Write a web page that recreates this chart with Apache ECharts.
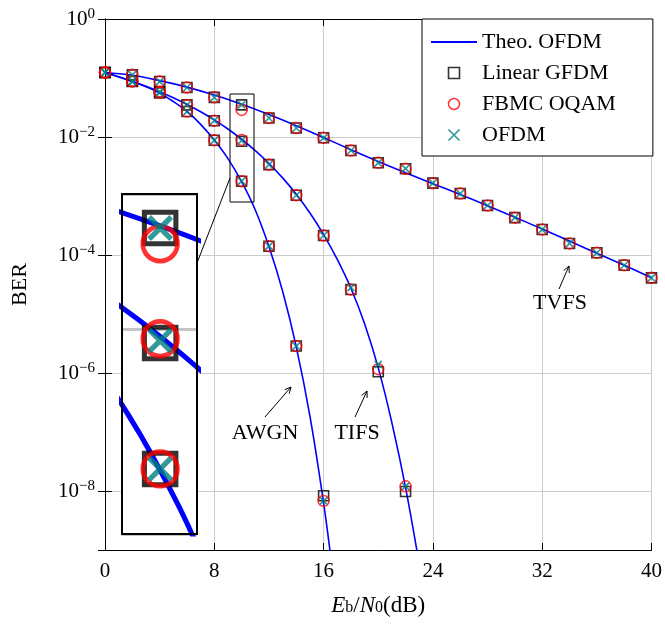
<!DOCTYPE html>
<html>
<head>
<meta charset="utf-8">
<script src="https://cdn.jsdelivr.net/npm/echarts@6/dist/echarts.min.js"></script>
<style>
html,body{margin:0;padding:0;background:#fff}
#chart{width:665px;height:625px}
</style>
</head>
<body>
<div id="chart"></div>
<script>
// Eb/N0 (dB) where the simulations were run
var snrSim = [0,2,4,6,8,10,12,14,16,18,20,22,24,26,28,30,32,34,36,38,40];
var awgnSimX = snrSim.slice(0, 9);
var tifsSimX = snrSim.slice(0, 12);

// theory curves
var awgnTheoX = [0,1,2,3,4,5,6,7,8,9,10,11,12,13,14,15,16,16.5,17];
var awgnTheo = [0.124,0.104,0.087,0.071,0.0555,0.040,0.0271,0.0164,0.0089,0.00431,0.00175,5.8e-4,1.39e-4,2.43e-5,2.77e-6,1.85e-7,6.25e-9,8.5e-10,9e-11];
var tifsTheoX = [0,1,2,3,4,5,6,7,8,9,10,11,12,13,14,15,16,17,18,19,20,21,22,23];
var tifsTheo = [0.124,0.105,0.0879,0.0723,0.0583,0.0461,0.0356,0.0268,0.0195,0.01365,0.00916,0.00587,0.00356,0.00203,0.00107,5.14e-4,2.22e-4,8.43e-5,2.73e-5,6.85e-6,1.22e-6,1.43e-7,1.14e-8,5.7e-10];
var tvfsTheo = [0.124,0.111,0.0902,0.070,0.0513,0.0359,0.024,0.0155,0.00977,0.0061,0.00385,0.00248,0.00162,0.00106,6.84e-4,4.37e-4,2.75e-4,1.72e-4,1.07e-4,6.68e-5,4.12e-5];

// simulated points: Linear GFDM
var gfdmAwgn = [0.124,0.087,0.056,0.027,0.0088,0.00178,1.41e-4,2.86e-6,8.3e-9];
var gfdmTifs = [0.124,0.088,0.058,0.035,0.0189,0.00845,0.0034,0.00103,2.14e-4,2.6e-5,1.05e-6,9.8e-9];
var gfdmTvfs = [0.124,0.113,0.087,0.069,0.047,0.035,0.021,0.0142,0.0097,0.0059,0.00365,0.0029,0.00165,0.0011,6.9e-4,4.3e-4,2.7e-4,1.57e-4,1.09e-4,6.7e-5,4.1e-5];
// FBMC OQAM
var fbmcAwgn = [0.124,0.087,0.056,0.027,0.0088,0.00178,1.41e-4,2.86e-6,6.8e-9];
var fbmcTifs = [0.124,0.088,0.058,0.035,0.0189,0.0089,0.0034,0.00103,2.14e-4,2.6e-5,1.16e-6,1.2e-8];
var fbmcTvfs = [0.124,0.113,0.087,0.069,0.047,0.0288,0.021,0.0142,0.0097,0.0059,0.00365,0.0029,0.00165,0.0011,6.9e-4,4.3e-4,2.7e-4,1.57e-4,1.09e-4,6.7e-5,4.1e-5];
// OFDM
var ofdmAwgn = [0.124,0.087,0.056,0.027,0.0088,0.00178,1.41e-4,2.86e-6,6.8e-9];
var ofdmTifs = [0.124,0.088,0.058,0.035,0.0189,0.0087,0.0034,0.00103,2.14e-4,2.8e-5,1.4e-6,1.2e-8];
var ofdmTvfs = [0.124,0.113,0.087,0.069,0.047,0.035,0.021,0.0142,0.0097,0.0059,0.00365,0.0029,0.00165,0.0011,6.9e-4,4.3e-4,2.7e-4,1.57e-4,1.09e-4,6.7e-5,4.1e-5];

var xTicks = [0, 40, 8];   // min, max, step
var yRange = [1e-9, 1];
var zoomX = [9.11, 10.86];
var zoomY = [7.96e-4, 0.0533];

var FONT = 'Liberation Serif';
var CROSS = 'path://M0,0L10,10M10,0L0,10';
var SQUARE = 'path://M0,0H10V10H0Z';

function pts(xs, ys) {
  return xs.map(function (x, i) { return [x, ys[i]]; });
}
function allPts(a, b, c) {
  return pts(awgnSimX, a).concat(pts(tifsSimX, b), pts(snrSim, c));
}
function yLabel(v) {
  var l = Math.log10(v), e = Math.round(l);
  if (Math.abs(l - e) > 1e-6 || e % 2 !== 0) return '';
  return '{b|10}{s|' + (e < 0 ? '\u2212' : '') + Math.abs(e) + '}';
}

var chart = echarts.init(document.getElementById('chart'));

function arrow(x1, y1, x2, y2) {
  var a = Math.atan2(y2 - y1, x2 - x1), h = 7, w = 0.45;
  return [
    { type: 'line', z: 20, shape: { x1: x1, y1: y1, x2: x2, y2: y2 }, style: { stroke: '#000', lineWidth: 1 } },
    { type: 'polyline', z: 20, shape: { points: [
      [x2 - h * Math.cos(a - w), y2 - h * Math.sin(a - w)], [x2, y2],
      [x2 - h * Math.cos(a + w), y2 - h * Math.sin(a + w)]] },
      style: { stroke: '#000', lineWidth: 1, fill: null } }
  ];
}
function label(t, x, y) {
  return { type: 'text', z: 20, x: x, y: y,
    style: { text: t, font: '22px "' + FONT + '"', fill: '#000', align: 'center', verticalAlign: 'middle', textAlign: 'center', textVerticalAlign: 'middle' } };
}

var theoLine = function (data, xi, yi, w) {
  return { name: 'Theo. OFDM', type: 'line', xAxisIndex: xi, yAxisIndex: yi, data: data, symbol: 'none',
    smooth: 0.4, z: 3, lineStyle: { color: '#0000ff', width: w }, itemStyle: { color: '#0000ff' }, silent: true };
};
var marks = function (name, data, sym, color, size, bw, xi, yi) {
  return { name: name, type: 'scatter', xAxisIndex: xi, yAxisIndex: yi, data: data, symbol: sym, symbolSize: size, z: 4,
    itemStyle: { color: 'none', borderColor: color, borderWidth: bw }, silent: true };
};

var series = [];
[0, 1].forEach(function (g) {
  var xi = g === 0 ? 0 : 2, yi = g === 0 ? 0 : 2;
  var k = g === 0 ? 1 : 3.15;
  series.push(theoLine(pts(awgnTheoX, awgnTheo), xi, yi, 1.6 * k));
  series.push(theoLine(pts(tifsTheoX, tifsTheo), xi, yi, 1.6 * k));
  series.push(theoLine(pts(snrSim, tvfsTheo), xi, yi, 1.6 * k));
  series.push(marks('Linear GFDM', allPts(gfdmAwgn, gfdmTifs, gfdmTvfs), SQUARE, '#000', 10 * k, 1.6 * k, xi, yi));
  series.push(marks('FBMC OQAM', allPts(fbmcAwgn, fbmcTifs, fbmcTvfs), 'circle', '#ff0000', 11 * k, 1.5 * k, xi, yi));
  series.push(marks('OFDM', allPts(ofdmAwgn, ofdmTifs, ofdmTvfs), CROSS, '#008080', 7 * k, 1.7 * k, xi, yi));
});

var mainX = { type: 'value', gridIndex: 0, min: xTicks[0], max: xTicks[1], interval: xTicks[2] };
var mainY = { type: 'log', gridIndex: 0, logBase: 100, min: yRange[0], max: yRange[1] };

var option = {
  animation: false,
  grid: [
    { left: 105, top: 19, width: 549, height: 531 },
    { left: 122, top: 194, width: 75, height: 340, show: true, backgroundColor: '#fff', borderWidth: 0, z: 1 }
  ],
  legend: {
    orient: 'vertical', left: 422, top: 19,
    padding: [12, 37, 10, 8], itemWidth: 46, itemHeight: 11, itemGap: 9,
    backgroundColor: '#fff', borderColor: '#000', borderWidth: 1, borderRadius: 0,
    textStyle: { fontFamily: FONT, fontSize: 22, color: '#000' },
    data: [
      { name: 'Theo. OFDM', itemStyle: { opacity: 0 } },
      { name: 'Linear GFDM', icon: SQUARE, itemStyle: { color: 'none', borderColor: '#000', borderWidth: 1.6 } },
      { name: 'FBMC OQAM', icon: 'circle', itemStyle: { color: 'none', borderColor: '#ff0000', borderWidth: 1.5 } },
      { name: 'OFDM', icon: CROSS, itemStyle: { color: 'none', borderColor: '#008080', borderWidth: 1.7 } }
    ]
  },
  xAxis: [
    Object.assign({}, mainX, {
      position: 'bottom',
      name: '{i|E}{sub|b}{n|/}{i|N}{sub|0}{n|(dB)}', nameLocation: 'middle', nameGap: 44,
      nameTextStyle: { rich: {
        i: { fontFamily: FONT, fontSize: 23, fontStyle: 'italic', color: '#000', padding: [0, 0, 5, 0] },
        n: { fontFamily: FONT, fontSize: 23, color: '#000', padding: [0, 0, 5, 0] },
        sub: { fontFamily: FONT, fontSize: 16, color: '#000' } } },
      axisLine: { show: true, lineStyle: { color: '#000', width: 1 } },
      axisTick: { show: true, inside: true, length: 7, lineStyle: { color: '#000' } },
      axisLabel: { fontFamily: FONT, fontSize: 21, color: '#000', margin: 11 },
      splitLine: { show: true, lineStyle: { color: '#cccccc', width: 1 } }
    }),
    Object.assign({}, mainX, {
      position: 'top',
      axisLine: { show: true, lineStyle: { color: '#000', width: 1 } },
      axisTick: { show: true, inside: true, length: 7, lineStyle: { color: '#000' } },
      axisLabel: { show: false }, splitLine: { show: false }
    }),
    { type: 'value', gridIndex: 1, min: zoomX[0], max: zoomX[1], z: 2,
      axisLine: { show: false }, axisTick: { show: false }, axisLabel: { show: false }, splitLine: { show: false } }
  ],
  yAxis: [
    Object.assign({}, mainY, {
      position: 'left',
      name: 'BER', nameLocation: 'middle', nameGap: 74, nameRotate: 90,
      nameTextStyle: { fontFamily: FONT, fontSize: 22, color: '#000' },
      axisLine: { show: true, lineStyle: { color: '#000', width: 1 } },
      axisTick: { show: true, inside: true, length: 7, lineStyle: { color: '#000' } },
      minorTick: { show: false },
      axisLabel: { formatter: yLabel, margin: 10, rich: {
        b: { fontFamily: FONT, fontSize: 21, color: '#000' },
        s: { fontFamily: FONT, fontSize: 15, color: '#000', padding: [0, 0, 10, 0] } } },
      splitLine: { show: true, lineStyle: { color: '#cccccc', width: 1 } }
    }),
    Object.assign({}, mainY, {
      position: 'right',
      axisLine: { show: true, lineStyle: { color: '#000', width: 1 } },
      axisTick: { show: true, inside: true, length: 7, lineStyle: { color: '#000' } },
      axisLabel: { show: false }, splitLine: { show: false }
    }),
    { type: 'log', gridIndex: 1, logBase: 100, min: zoomY[0], max: zoomY[1], z: 2,
      axisLine: { show: false }, axisTick: { show: false }, axisLabel: { show: false },
      splitLine: { show: true, lineStyle: { color: '#c4c4c4', width: 3 } } }
  ],
  series: series,
  graphic: [
    // magnifier frame, source rectangle and connector
    { type: 'rect', z: 30, shape: { x: 122, y: 194, width: 75, height: 340 }, style: { fill: null, stroke: '#000', lineWidth: 2 } },
    { type: 'rect', z: 30, shape: { x: 230, y: 94, width: 24, height: 108 }, style: { fill: null, stroke: '#000', lineWidth: 1 } },
    { type: 'line', z: 30, shape: { x1: 197, y1: 263, x2: 230, y2: 178 }, style: { stroke: '#000', lineWidth: 1 } },
    label('AWGN', 265, 433), label('TIFS', 357, 433), label('TVFS', 560, 303)
  ].concat(arrow(265, 417, 291, 387), arrow(355, 417, 367, 391), arrow(559, 289, 569, 266))
};

chart.setOption(option);
</script>
</body>
</html>
